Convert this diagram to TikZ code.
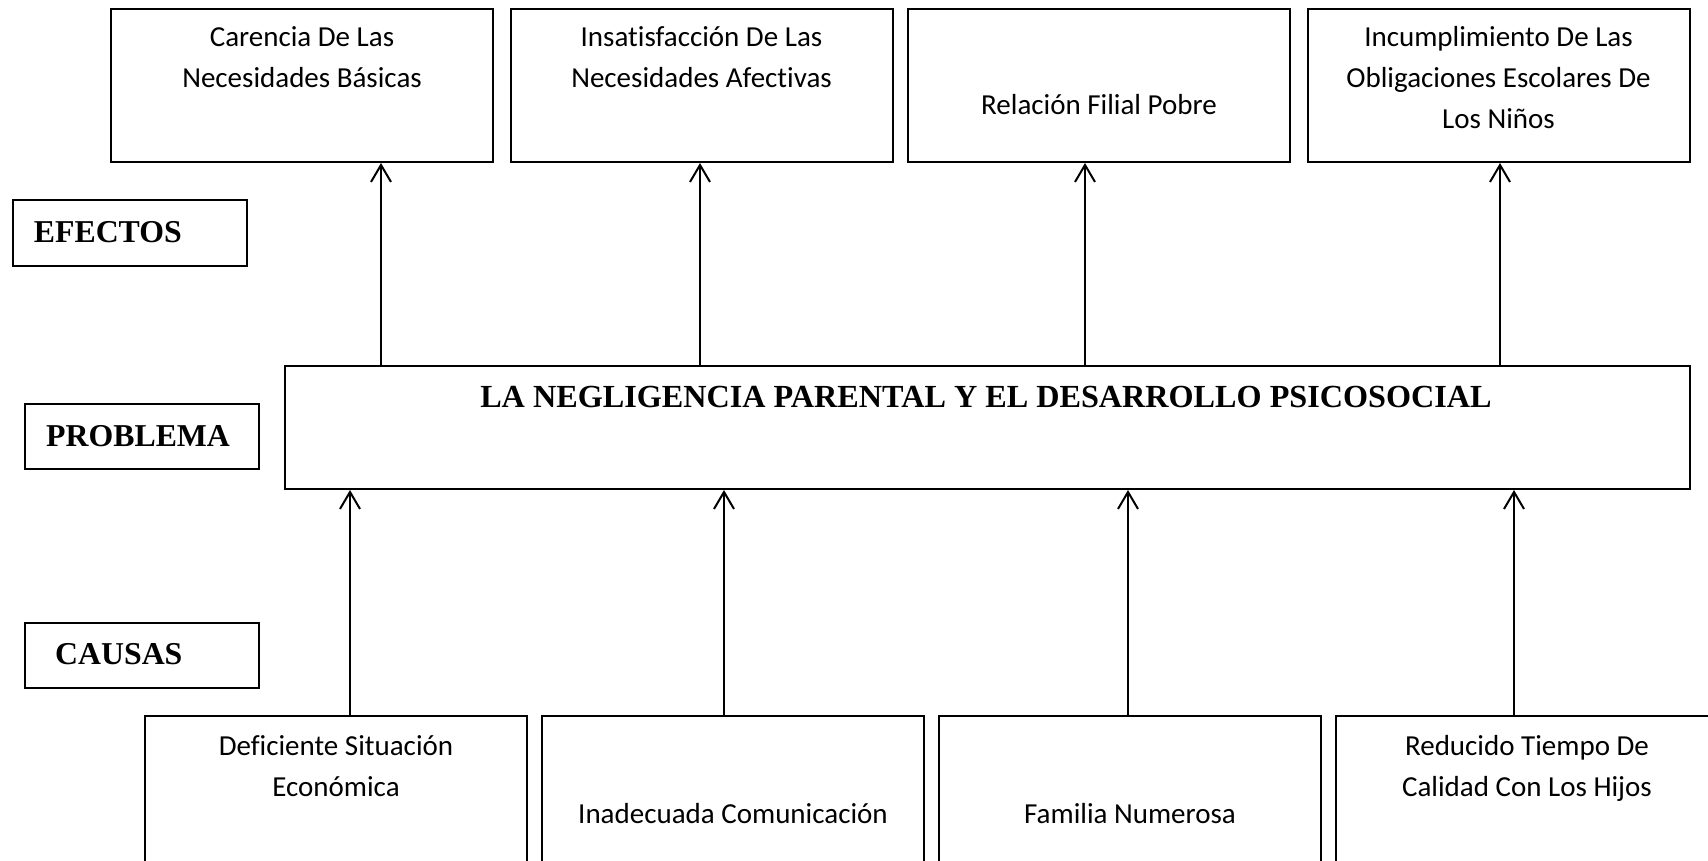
\documentclass[tikz,border=0pt]{standalone}
\usepackage{fontspec}
\setmainfont{Liberation Serif}
\newfontfamily\calibfont[Ligatures=NoCommon]{Carlito}
\usetikzlibrary{arrows.meta}
\begin{document}
\begin{tikzpicture}[x=1pt,y=-1pt,
  box/.style={draw, line width=2pt, inner sep=0pt, minimum width=382pt},
  topbox/.style={box, minimum height=153pt},
  botbox/.style={box, minimum height=200pt},
  lblbox/.style={draw, line width=2pt, inner sep=0pt, minimum width=234pt, minimum height=65pt},
  txt/.style={inner sep=0pt, align=center, font=\calibfont\fontsize{29}{41}\selectfont},
  lbltxt/.style={inner sep=0pt, font=\bfseries\fontsize{31.8}{38}\selectfont},
  arr/.style={line width=2pt, -{Straight Barb[length=17pt,width=20pt]}}]
\useasboundingbox (0,0) rectangle (1708,861);
\clip (0,0) rectangle (1708,861);
\fill[white] (0,0) rectangle (1708,861);

% effects
\node[topbox] (e1) at (302,85.5) {};
\node[topbox] (e2) at (701.5,85.5) {};
\node[topbox] (e3) at (1099,85.5) {};
\node[topbox] (e4) at (1498.5,85.5) {};
\node[txt, anchor=base] (e1t) at (302,88) {Carencia De Las\\Necesidades Básicas};
\node[txt, anchor=base] (e2t) at (701.5,88) {Insatisfacción De Las\\Necesidades Afectivas};
\node[txt, anchor=base] (e3t) at (1099,115) {Relación Filial Pobre};
\node[txt, anchor=base] (e4t) at (1498.5,129) {Incumplimiento De Las\\Obligaciones Escolares De\\Los Niños};

% problem
\node[draw, line width=2pt, inner sep=0pt, minimum width=1405pt, minimum height=123pt] (p) at (987.5,427.5) {};
\node[lbltxt, anchor=base, font=\bfseries\fontsize{32.2}{38}\selectfont] (pt) at (986,407) {LA NEGLIGENCIA PARENTAL Y EL DESARROLLO PSICOSOCIAL};

% causes
\node[botbox] (c1) at (336,816) {};
\node[botbox] (c2) at (733,816) {};
\node[botbox] (c3) at (1130,816) {};
\node[botbox] (c4) at (1527,816) {};
\node[txt, anchor=base] (c1t) at (336,796) {Deficiente Situación\\Económica};
\node[txt, anchor=base] (c2t) at (733,823) {Inadecuada Comunicación};
\node[txt, anchor=base] (c3t) at (1130,823) {Familia Numerosa};
\node[txt, anchor=base] (c4t) at (1527,796) {Reducido Tiempo De\\Calidad Con Los Hijos};

% side labels
\node[lblbox, minimum width=234pt, minimum height=66pt] (lef) at (130,233) {};
\node[lbltxt, anchor=base west] (left) at (33.7,242.7) {EFECTOS};
\node[lblbox] (lpr) at (142.25,436.5) {};
\node[lbltxt, anchor=base west] (lprt) at (46,446) {PROBLEMA};
\node[lblbox] (lca) at (142.25,655.5) {};
\node[lbltxt, anchor=base west] (lcat) at (55,664) {CAUSAS};

% arrow columns
\coordinate (a1) at (381,0);
\coordinate (a2) at (700,0);
\coordinate (a3) at (1085,0);
\coordinate (a4) at (1500,0);
\coordinate (b1) at (350,0);
\coordinate (b2) at (724,0);
\coordinate (b3) at (1128,0);
\coordinate (b4) at (1514,0);

\draw[arr] (p.north -| a1) -- (e1.south -| a1);
\draw[arr] (p.north -| a2) -- (e2.south -| a2);
\draw[arr] (p.north -| a3) -- (e3.south -| a3);
\draw[arr] (p.north -| a4) -- (e4.south -| a4);
\draw[arr] (c1.north -| b1) -- (p.south -| b1);
\draw[arr] (c2.north -| b2) -- (p.south -| b2);
\draw[arr] (c3.north -| b3) -- (p.south -| b3);
\draw[arr] (c4.north -| b4) -- (p.south -| b4);
\end{tikzpicture}
\end{document}
